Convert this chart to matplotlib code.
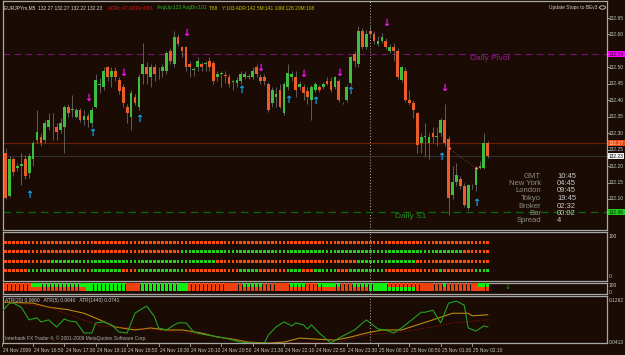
import numpy as np
import matplotlib.pyplot as plt
from matplotlib.transforms import blended_transform_factory

# EURJPYm M5 candles, bar 0 = 24 Nov 16:10, last bar = 25 Nov 02:30
opens = [132.163, 132.239, 132.110, 132.220, 132.193, 132.200, 132.220, 132.180, 132.220, 132.279,
         132.289, 132.279, 132.320, 132.330, 132.320, 132.310, 132.320, 132.380, 132.370, 132.350,
         132.370, 132.340, 132.352, 132.330, 132.380, 132.445, 132.441, 132.500, 132.470, 132.490,
         132.462, 132.439, 132.380, 132.350, 132.411, 132.380, 132.480, 132.500, 132.470, 132.500,
         132.482, 132.490, 132.490, 132.551, 132.510, 132.591, 132.561, 132.561, 132.510, 132.492,
         132.500, 132.510, 132.510, 132.520, 132.512, 132.470, 132.480, 132.478, 132.470, 132.455,
         132.451, 132.460, 132.470, 132.472, 132.470, 132.500, 132.470, 132.470, 132.449, 132.391,
         132.411, 132.431, 132.360, 132.441, 132.472, 132.470, 132.439, 132.439, 132.429, 132.401,
         132.431, 132.439, 132.441, 132.460, 132.460, 132.441, 132.460, 132.391, 132.401, 132.451,
         132.541, 132.510, 132.609, 132.561, 132.609, 132.601, 132.571, 132.581, 132.581, 132.551,
         132.561, 132.551, 132.462, 132.490, 132.401, 132.391, 132.360, 132.269, 132.289, 132.269,
         132.300, 132.289, 132.300, 132.340, 132.281, 132.112, 132.153, 132.160, 132.140, 132.071,
         132.138, 132.142, 132.195, 132.193, 132.269]
highs = [132.255, 132.255, 132.230, 132.228, 132.210, 132.239, 132.235, 132.240, 132.275, 132.370,
         132.300, 132.340, 132.360, 132.360, 132.330, 132.345, 132.385, 132.390, 132.416, 132.375,
         132.375, 132.370, 132.360, 132.380, 132.480, 132.467, 132.500, 132.505, 132.500, 132.500,
         132.470, 132.450, 132.390, 132.430, 132.420, 132.480, 132.573, 132.515, 132.510, 132.510,
         132.500, 132.510, 132.550, 132.560, 132.610, 132.600, 132.565, 132.565, 132.520, 132.500,
         132.530, 132.515, 132.520, 132.530, 132.520, 132.490, 132.490, 132.490, 132.480, 132.462,
         132.470, 132.490, 132.490, 132.480, 132.500, 132.510, 132.480, 132.480, 132.455, 132.440,
         132.440, 132.450, 132.455, 132.510, 132.490, 132.490, 132.460, 132.450, 132.440, 132.445,
         132.455, 132.445, 132.455, 132.470, 132.470, 132.475, 132.465, 132.395, 132.445, 132.535,
         132.550, 132.625, 132.620, 132.615, 132.625, 132.610, 132.595, 132.605, 132.590, 132.570,
         132.575, 132.560, 132.505, 132.500, 132.430, 132.400, 132.365, 132.300, 132.330, 132.300,
         132.320, 132.320, 132.345, 132.390, 132.290, 132.200, 132.210, 132.170, 132.150, 132.145,
         132.145, 132.200, 132.215, 132.300, 132.275]
lows = [132.150, 132.100, 132.105, 132.170, 132.185, 132.142, 132.160, 132.165, 132.200, 132.270,
        132.260, 132.270, 132.310, 132.279, 132.280, 132.300, 132.239, 132.350, 132.350, 132.345,
        132.335, 132.325, 132.320, 132.320, 132.375, 132.421, 132.430, 132.460, 132.440, 132.460,
        132.420, 132.380, 132.330, 132.310, 132.385, 132.370, 132.450, 132.450, 132.440, 132.460,
        132.465, 132.470, 132.480, 132.510, 132.500, 132.565, 132.530, 132.490, 132.470, 132.475,
        132.490, 132.490, 132.490, 132.490, 132.450, 132.460, 132.441, 132.451, 132.440, 132.431,
        132.440, 132.450, 132.465, 132.465, 132.465, 132.470, 132.450, 132.445, 132.365, 132.380,
        132.380, 132.375, 132.355, 132.430, 132.460, 132.410, 132.430, 132.400, 132.390, 132.340,
        132.425, 132.425, 132.435, 132.445, 132.425, 132.435, 132.395, 132.388, 132.395, 132.445,
        132.500, 132.500, 132.555, 132.555, 132.590, 132.570, 132.565, 132.575, 132.555, 132.545,
        132.520, 132.465, 132.455, 132.395, 132.385, 132.345, 132.240, 132.240, 132.229, 132.220,
        132.270, 132.260, 132.290, 132.260, 132.050, 132.100, 132.140, 132.130, 132.075, 132.065,
        132.130, 132.125, 132.190, 132.190, 132.225]
closes = [132.239, 132.102, 132.220, 132.183, 132.200, 132.205, 132.171, 132.231, 132.269, 132.302,
          132.269, 132.330, 132.340, 132.332, 132.302, 132.330, 132.380, 132.360, 132.372, 132.370,
          132.340, 132.352, 132.340, 132.370, 132.462, 132.448, 132.490, 132.470, 132.490, 132.470,
          132.429, 132.391, 132.360, 132.421, 132.391, 132.472, 132.510, 132.480, 132.500, 132.480,
          132.484, 132.500, 132.543, 132.520, 132.591, 132.571, 132.551, 132.500, 132.500, 132.492,
          132.520, 132.500, 132.512, 132.500, 132.460, 132.480, 132.482, 132.475, 132.449, 132.455,
          132.462, 132.480, 132.480, 132.473, 132.490, 132.480, 132.460, 132.460, 132.370, 132.431,
          132.419, 132.380, 132.449, 132.482, 132.480, 132.431, 132.449, 132.421, 132.411, 132.439,
          132.449, 132.431, 132.449, 132.449, 132.431, 132.470, 132.401, 132.391, 132.439, 132.530,
          132.520, 132.609, 132.561, 132.601, 132.601, 132.581, 132.581, 132.591, 132.561, 132.561,
          132.551, 132.472, 132.500, 132.401, 132.391, 132.370, 132.264, 132.289, 132.291, 132.289,
          132.289, 132.290, 132.340, 132.269, 132.102, 132.153, 132.173, 132.140, 132.082, 132.142,
          132.138, 132.193, 132.200, 132.269, 132.231]

# signal arrows (bar, price)
up_bars = [7, 23, 35, 61, 73, 80, 89, 112, 121]
up_prices = [132.112, 132.300, 132.343, 132.431, 132.401, 132.398, 132.428, 132.228, 132.088]
down_bars = [22, 31, 47, 66, 77, 86, 98, 113]
down_prices = [132.407, 132.483, 132.604, 132.498, 132.480, 132.483, 132.635, 132.437]

pivot = 132.54
s1 = 132.06
ask = 132.27
bid = 132.23
price_ticks = [132.10, 132.15, 132.20, 132.25, 132.30, 132.35, 132.40, 132.45, 132.50, 132.60, 132.65]

# indicator rows: green runs (first bar, last bar), rest red
row1_green = []
row2_green = [(46, 117)]
row3_green = [(13, 54), (91, 105)]
row4_green = [(7, 21), (23, 30), (35, 46), (61, 65), (73, 76), (80, 85), (89, 97), (112, 112), (121, 124)]
strip_top_green = [(8, 31), (36, 47), (62, 66), (74, 77), (81, 86), (90, 98), (113, 113), (122, 124)]
strip_bot_green = [(22, 31), (36, 47), (94, 105)]

# ATR lines read at some bars
atr_g_bars = [0, 2, 3, 5, 7, 9, 10, 12, 14, 16, 17, 19, 21, 23, 24, 26, 28, 30, 32, 34, 36, 37, 39, 40,
              42, 44, 45, 47, 49, 51, 54, 57, 61, 64, 67, 68, 70, 72, 74, 75, 77, 78, 79, 81, 84, 86,
              90, 93, 94, 96, 98, 100, 102, 104, 107, 108, 110, 112, 114, 116, 118, 119, 121, 123, 124]
atr_g_vals = [0.103, 0.120, 0.120, 0.112, 0.087, 0.091, 0.083, 0.087, 0.073, 0.089, 0.085, 0.083, 0.061,
              0.061, 0.081, 0.083, 0.077, 0.063, 0.061, 0.100, 0.110, 0.114, 0.093, 0.071, 0.067, 0.077,
              0.081, 0.081, 0.063, 0.059, 0.055, 0.051, 0.043, 0.041, 0.041, 0.057, 0.073, 0.083, 0.075,
              0.081, 0.077, 0.069, 0.077, 0.061, 0.041, 0.051, 0.067, 0.087, 0.081, 0.069, 0.067, 0.061,
              0.071, 0.083, 0.102, 0.102, 0.106, 0.081, 0.120, 0.124, 0.116, 0.071, 0.065, 0.075, 0.073]
atr_o_bars = [0, 8, 12, 17, 21, 25, 29, 34, 38, 42, 46, 51, 55, 59, 63, 68, 72, 76, 80, 85, 89, 93, 97,
              102, 106, 110, 115, 119, 120, 124]
atr_o_vals = [0.122, 0.120, 0.112, 0.107, 0.100, 0.087, 0.073, 0.067, 0.071, 0.067, 0.067, 0.061, 0.053,
              0.049, 0.043, 0.041, 0.043, 0.051, 0.049, 0.047, 0.053, 0.061, 0.067, 0.067, 0.077, 0.087,
              0.100, 0.100, 0.095, 0.097]
atr_r_bars = [0, 12, 25, 34, 51, 63, 68, 76, 85, 93, 102, 110, 115, 124]
atr_r_vals = [0.124, 0.112, 0.075, 0.071, 0.058, 0.043, 0.039, 0.043, 0.041, 0.057, 0.063, 0.073, 0.081, 0.087]

time_labels = ['24 Nov 2009', '24 Nov 16:50', '24 Nov 17:30', '24 Nov 18:10', '24 Nov 18:50',
               '24 Nov 19:30', '24 Nov 20:10', '24 Nov 20:50', '24 Nov 21:30', '24 Nov 22:10',
               '24 Nov 22:50', '24 Nov 23:30', '25 Nov 00:10', '25 Nov 00:50', '25 Nov 01:30',
               '25 Nov 02:10']
time_bars = [0, 8, 16, 24, 32, 40, 48, 56, 64, 72, 80, 88, 96, 104, 112, 120]
day_bar = 94

info_names = ['GMT', 'New York', 'London', 'Tokyo', 'Broker', 'Bar', 'Spread']
info_values = ['10:45', '04:45', '09:45', '19:45', '02:32', '00:02', '4']

BG = '#1a0c04'
FRAME = '#a8a8a8'
GREEN = '#3dbf3d'
RED = '#ec5c28'
SMALL = 3.5
W, H = 625, 355
plt.rcParams['font.family'] = ['Liberation Sans', 'DejaVu Sans']


def rect(x0, y0, x1, y1):
    return [x0 / W, 1 - y1 / H, (x1 - x0) / W, (y1 - y0) / H]


def style(a):
    a.set_facecolor(BG)
    for s in a.spines.values():
        s.set_color(FRAME)
        s.set_linewidth(0.9)
    a.set_xticks([])
    a.set_yticks([])
    # bar i sits at pixel 1.7 + 3.92*i
    a.set_xlim((3 - 1.7) / 3.92, (607 - 1.7) / 3.92)
    a.axvline(day_bar, color='#b8b8b8', lw=0.7, ls=(0, (1, 2)), zorder=1)


def rlabel(a, y, s, **kw):
    a.text(1.003, y, s, color='#c8c8c8', fontsize=SMALL, va='center', clip_on=False,
           transform=blended_transform_factory(a.transAxes, a.transData), **kw)


fig = plt.figure(figsize=(6.25, 3.55), dpi=100, facecolor=BG)

# main price chart
ax = fig.add_axes(rect(3, 1, 607, 230))
style(ax)
ax.set_ylim(132.65 - 212 / 329, 132.65 + 17 / 329)
n = len(closes)
bars = np.arange(n)
o = np.array(opens)
c = np.array(closes)
cols = [GREEN if c[i] >= o[i] else RED for i in range(n)]
ax.vlines(bars, lows, highs, color='#6a6a6a', lw=0.6, zorder=2)
body = np.where(np.abs(c - o) < 0.002, 0.002, c - o)
ax.bar(bars, body, bottom=o, width=0.7, color=cols, lw=0, zorder=3)

ax.axhline(pivot, color='#7a107a', lw=0.8, ls=(0, (6, 4)), zorder=1)
ax.axhline(s1, color='#0b6a0b', lw=0.9, ls=(0, (6, 4)), zorder=1)
ax.axhline(ask, color='#6e1c06', lw=0.9, zorder=1)
ax.axhline(bid, color='#303030', lw=0.8, zorder=1)
ax.plot([114, 121], [132.255, 132.194], ls=':', color='#c02020', lw=0.7, zorder=4)
ax.plot([114, 121], [132.255, 132.194], 'o', ms=2, mfc='#f0c0a0', mec='#c02020', mew=0.4, zorder=5)

for b, p in zip(up_bars, up_prices):
    ax.text(b, p, '↑', color='#10a8f0', fontsize=7, fontweight='bold', ha='center', va='center',
            family='DejaVu Sans', zorder=6)
for b, p in zip(down_bars, down_prices):
    ax.text(b, p, '↓', color='#ff10ff', fontsize=7, fontweight='bold', ha='center', va='center',
            family='DejaVu Sans', zorder=6)

lt = blended_transform_factory(fig.transFigure, ax.transData)
ax.text(470 / W, pivot - 0.012, 'Daily Pivot', color='#9a189a', fontsize=6, va='center', transform=lt)
ax.text(395 / W, s1 - 0.012, 'Daily S1', color='#1f8a1f', fontsize=6, va='center', transform=lt)

# right price scale
rt = blended_transform_factory(ax.transAxes, ax.transData)
for p in price_ticks:
    ax.plot([1.0, 1.004], [p, p], color=FRAME, lw=0.6, transform=rt, clip_on=False)
    rlabel(ax, p, '%.2f' % p)
for p, fc, tc in [(pivot, '#ff00ff', '#200020'), (ask, '#e84a10', '#ffe0d0'),
                  (bid, '#f0f0f0', '#101010'), (s1, '#20d020', '#002000')]:
    ax.text(1.003, p, '%.2f' % p, color=tc, fontsize=SMALL, va='center', transform=rt, clip_on=False,
            zorder=10, bbox=dict(boxstyle='square,pad=0.15', fc=fc, ec='none'))


# header texts
def ftext(x, y, s, color, size=3.5, **kw):
    fig.text(x / W, 1 - y / H, s, color=color, fontsize=size, va='center', **kw)


ftext(4, 8, 'EURJPYm,M5  132.27 132.27 132.22 132.23', '#d8d8d8')
ftext(108, 8, 'ADRs:47 ADRs:43%', '#e01818')
ftext(157, 8, 'AvgUp:123 AvgDn:101', '#22c022')
ftext(209, 8, 'T:68', '#c8c800')
ftext(222, 8, 'Y:103 ADR:142 5M:141 10M:128 20M:108', '#c8c800')
ftext(597, 8, 'Update Stops to BEv3', '#d0d0d0', ha='right')
fig.patches.append(plt.Circle((602.5 / W, 1 - 7.5 / H), 3 / W, transform=fig.transFigure,
                              fill=False, ec='#d0d0d0', lw=0.6))

for k, (nm, v) in enumerate(zip(info_names, info_values)):
    y = 176 + k * 7.5
    ftext(541, y, nm, '#8c8c8c', size=5.5, ha='right')
    ftext(557, y, v, '#c8c8c8', size=5.5)


# indicator rows panel
def states(runs):
    g = np.zeros(n, dtype=bool)
    for a, b in runs:
        g[a:b + 1] = True
    return g


ax2 = fig.add_axes(rect(3, 232, 607, 281))
style(ax2)
ax2.set_ylim(281, 232)
for y, runs in zip([242, 251, 261, 270], [row1_green, row2_green, row3_green, row4_green]):
    g = states(runs)
    ax2.bar(bars, 3, bottom=y - 1.5, width=0.68, lw=0,
            color=['#22d022' if v else '#ff4a10' for v in g], zorder=3)
rlabel(ax2, 236, '100')
rlabel(ax2, 277, '0')

ax3 = fig.add_axes(rect(3, 283, 607, 294))
style(ax3)
ax3.set_ylim(294, 283)
for y, runs in zip([285, 289], [strip_top_green, strip_bot_green]):
    g = states(runs)
    ax3.bar(bars, 3.3, bottom=y - 1.65, width=0.8, lw=0,
            color=['#10f010' if v else '#f04010' for v in g], zorder=3)
ax3.text(129, 287, '↓', color='#10b010', fontsize=5, ha='center', va='center', family='DejaVu Sans')
rlabel(ax3, 285.5, '100')
rlabel(ax3, 292, '0')

# ATR panel
ax4 = fig.add_axes(rect(3, 296, 607, 343))
style(ax4)
ax4.set_ylim(0.0413, 0.1341)
ax4.plot(atr_o_bars, atr_o_vals, color='#b88a10', lw=0.8, zorder=3)
ax4.plot(atr_r_bars, atr_r_vals, color='#a01010', lw=0.7, ls=':', zorder=3)
ax4.plot(atr_g_bars, atr_g_vals, color='#22a022', lw=0.8, zorder=4)
rlabel(ax4, 0.1262, '0.1262')
rlabel(ax4, 0.0413, '0.0413')
ax4.text(0.003, 0.95, 'ATR(20) 0.0660   ATR(5) 0.0640   ATR(1440) 0.0741', color='#c8c8c8',
         fontsize=SMALL, va='top', transform=ax4.transAxes)
ax4.text(0.003, 0.04, 'Interbank FX Trader 4, © 2001-2009 MetaQuotes Software Corp.', color='#b0b0b0',
         fontsize=SMALL, va='bottom', transform=ax4.transAxes)

# time axis
tt = blended_transform_factory(ax4.transData, fig.transFigure)
for b, lab in zip(time_bars, time_labels):
    ax4.plot([b, b], [1 - 343 / H, 1 - 346 / H], color=FRAME, lw=0.6, transform=tt, clip_on=False)
    ax4.text(b + 0.3, 1 - 350.5 / H, lab, color='#c8c8c8', fontsize=SMALL, va='center', transform=tt,
             clip_on=False)

fig.savefig('out.png', dpi=100, facecolor=BG)
